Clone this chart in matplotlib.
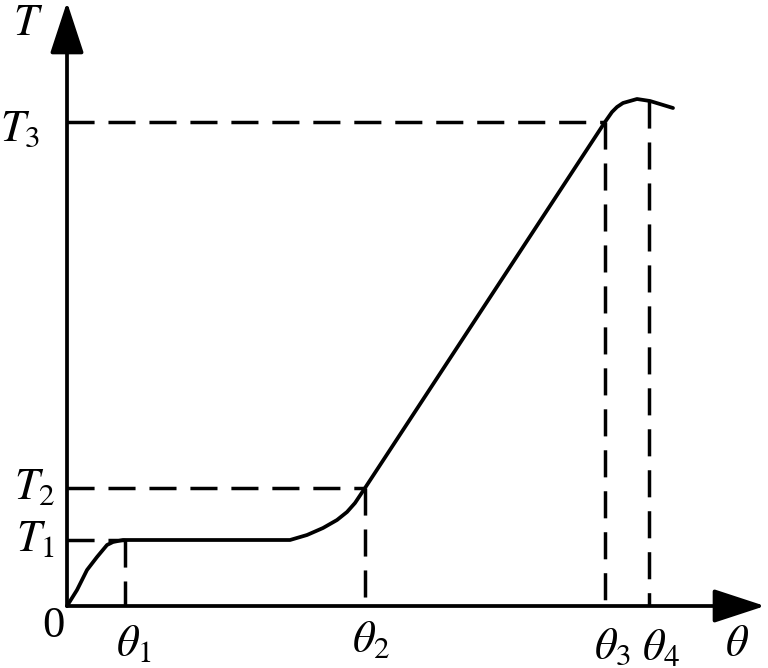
import matplotlib
matplotlib.use("Agg")
import matplotlib.pyplot as plt

plt.rcParams["mathtext.fontset"] = "stix"
plt.rcParams["font.family"] = ["Liberation Serif", "DejaVu Serif"]

# marks on the axes (schematic units)
theta_marks = [58, 298, 538, 582]
T_marks = [66, 118, 484]
theta_labels = [r"$\theta_1$", r"$\theta_2$", r"$\theta_3$", r"$\theta_4$"]
T_labels = [r"$T_1$", r"$T_2$", r"$T_3$"]

# T(theta) curve
curve_theta = [0, 10, 20, 30, 40, 46, 56, 223, 240, 256, 270, 280, 288,
               298, 538, 545, 550, 556, 570, 583, 606]
curve_T = [0, 16, 36, 49, 61, 64, 66, 66, 71, 78, 86, 94, 103,
           118, 484, 494, 499, 503, 507, 505, 498]
theta4_T = 505  # curve height above theta4

x_end, y_end = 698, 604  # arrow tips

fig = plt.figure(figsize=(7.68, 6.68), dpi=100)
ax = fig.add_axes([0, 0, 1, 1])
ax.set_xlim(-67, 701)
ax.set_ylim(-62, 606)
ax.axis("off")

lw = 2.7
dash = dict(color="black", lw=2.5, linestyle=(0, (7.8, 4.0)))

# axes with arrow heads
for tip in [(x_end, 0), (0, y_end)]:
    ax.annotate("", xy=tip, xytext=(0, 0),
                arrowprops=dict(arrowstyle="-|>,head_length=32,head_width=10.5",
                                mutation_scale=1, lw=lw, color="black",
                                shrinkA=0, shrinkB=0))

# dashed guides
t1, t2, t3 = T_marks
th1, th2, th3, th4 = theta_marks
ax.plot([0, th1], [t1, t1], **dash)
ax.plot([th1, th1], [t1, 0], **dash)
ax.plot([0, th2], [t2, t2], **dash)
ax.plot([th2, th2], [t2, 0], **dash)
ax.plot([0, th3], [t3, t3], **dash)
ax.plot([th3, th3], [t3, 0], **dash)
ax.plot([th4, th4], [theta4_T, 0], **dash)

# curve
ax.plot(curve_theta, curve_T, color="black", lw=lw,
        solid_joinstyle="round", solid_capstyle="round")

fs = 32
# T labels
ax.text(-12, t1, T_labels[0], fontsize=fs, ha="right", va="center")
ax.text(-12, t2, T_labels[1], fontsize=fs, ha="right", va="center")
ax.text(-27, t3 - 8, T_labels[2], fontsize=fs, ha="right", va="center")
ax.text(-39, 582, r"$T$", fontsize=fs, ha="center", va="center")
ax.text(-14, -20, "0", fontsize=fs, ha="center", va="center")

# theta labels
ax.text(th1 + 9, -39, theta_labels[0], fontsize=fs, ha="center", va="center")
ax.text(th2 + 6, -34, theta_labels[1], fontsize=fs, ha="center", va="center")
ax.text(th3 + 7, -42, theta_labels[2], fontsize=fs, ha="center", va="center")
ax.text(th4 + 12, -42, theta_labels[3], fontsize=fs, ha="center", va="center")
ax.text(670, -39, r"$\theta$", fontsize=fs, ha="center", va="center")

fig.savefig("out.png", dpi=100)
